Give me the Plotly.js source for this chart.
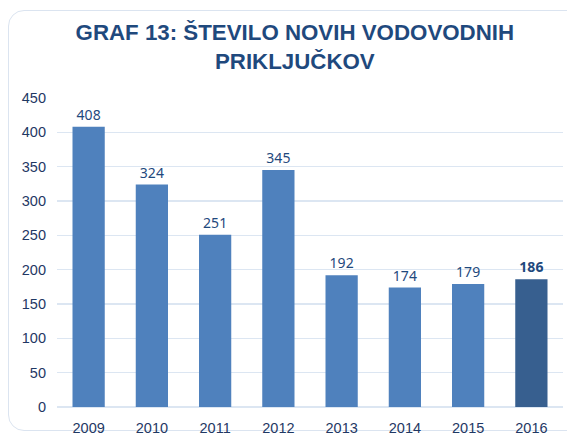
<!DOCTYPE html>
<html>
<head>
<meta charset="utf-8">
<script src="https://cdn.plot.ly/plotly-3.0.1.min.js"></script>
<style>
html,body{margin:0;padding:0;background:#fff;}
#frame{position:absolute;left:8px;top:10px;width:600px;height:421px;border:1.5px solid #dbe4f0;border-radius:16px;box-sizing:border-box;}
#chart{position:absolute;left:0;top:0;width:567px;height:439px;}
</style>
</head>
<body>
<div id="frame"></div>
<div id="chart"></div>
<script>
const years = ['2009','2010','2011','2012','2013','2014','2015','2016'];
const values = [408, 324, 251, 345, 192, 174, 179, 186];
const barColors = ['#4f81bd','#4f81bd','#4f81bd','#4f81bd','#4f81bd','#4f81bd','#4f81bd','#375f8f'];
const labels = values.map((v, i) => i === values.length - 1 ? '<b>' + v + '</b>' : String(v));
const yTicks = [0, 50, 100, 150, 200, 250, 300, 350, 400, 450];

const trace = {
  type: 'bar',
  x: years,
  y: values,
  marker: {color: barColors},
  text: labels,
  textposition: 'outside',
  cliponaxis: false,
  textfont: {family: 'Noto Sans, Open Sans, sans-serif', size: 14, color: '#1f497d'},
  hoverinfo: 'none'
};

const layout = {
  width: 567, height: 439,
  margin: {l: 57, r: 4, t: 98, b: 32},
  paper_bgcolor: 'rgba(0,0,0,0)',
  plot_bgcolor: 'rgba(0,0,0,0)',
  bargap: 0.49,
  showlegend: false,
  title: {
    text: 'GRAF 13: ŠTEVILO NOVIH VODOVODNIH<br>PRIKLJUČKOV',
    x: 0.52, xanchor: 'center',
    y: 0.91, yanchor: 'top',
    font: {family: 'Liberation Sans, Arial, sans-serif', size: 22.3, color: '#1f497d', weight: 'bold'}
  },
  xaxis: {
    type: 'category',
    showgrid: false, zeroline: false, showline: false, ticks: '',
    ticklabelstandoff: 10,
    tickfont: {family: 'Liberation Sans, Arial, sans-serif', size: 14.5, color: '#1f3864'}
  },
  yaxis: {
    range: [0, 450],
    tickvals: yTicks,
    ticktext: yTicks.map(String),
    showgrid: true, gridcolor: '#dce6f2', gridwidth: 1.5,
    zeroline: true, zerolinecolor: '#dce6f2', zerolinewidth: 1.5,
    showline: false, ticks: '',
    ticklabelstandoff: 10,
    tickfont: {family: 'Liberation Sans, Arial, sans-serif', size: 14.5, color: '#1f3864'}
  }
};

Plotly.newPlot('chart', [trace], layout, {displayModeBar: false, staticPlot: true});
</script>
</body>
</html>
